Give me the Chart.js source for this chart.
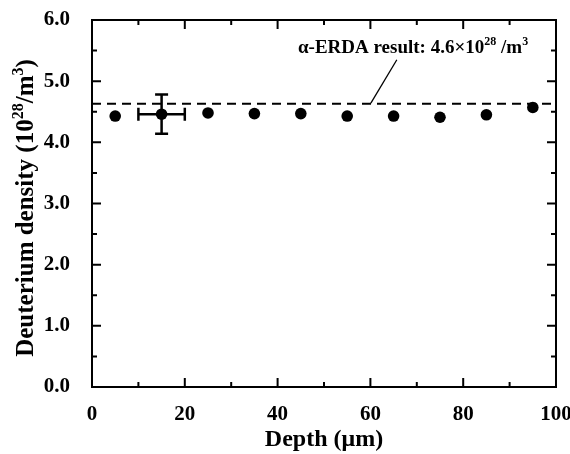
<!DOCTYPE html>
<html>
<head>
<meta charset="utf-8">
<script src="https://cdn.jsdelivr.net/npm/chart.js@4"></script>
<style>
  html, body { margin: 0; padding: 0; background: #fff; }
  #wrap { width: 570px; height: 454px; }
</style>
</head>
<body>
<div id="wrap"><canvas id="chart" width="570" height="454"></canvas></div>
<script>
// depth (um) and deuterium density (10^28 /m^3)
const depths = [5, 15, 25, 35, 45, 55, 65, 75, 85, 95];
const densities = [4.43, 4.46, 4.48, 4.47, 4.47, 4.43, 4.43, 4.41, 4.45, 4.57];
// error bar on the second point only
const errX = [0, 5, 0, 0, 0, 0, 0, 0, 0, 0];
const errY = [0, 0.32, 0, 0, 0, 0, 0, 0, 0, 0];

const erdaValue = 4.63;
const xTicks = [0, 20, 40, 60, 80, 100];
const xMinor = [10, 30, 50, 70, 90];
const yTicks = [0, 1, 2, 3, 4, 5, 6];
const yMinor = [0.5, 1.5, 2.5, 3.5, 4.5, 5.5];

// annotation anchor + leader line (data units)
const noteAt = { x: 44.4, y: 5.46 };
const leader = [{ x: 65.7, y: 5.35 }, { x: 60.1, y: 4.64 }];

const FONT = "'Liberation Serif', 'Times New Roman', serif";

// draws text pieces, some raised as superscripts, starting at (x, y)
function drawRich(ctx, parts, x, y, size) {
  let cx = x;
  parts.forEach(p => {
    const fs = p.sup ? Math.round(size * 0.65) : size;
    ctx.font = "bold " + fs + "px " + FONT;
    ctx.fillText(p.t, cx, p.sup ? y - size * 0.42 : y);
    cx += ctx.measureText(p.t).width;
  });
  return cx - x;
}
function richWidth(ctx, parts, size) {
  let w = 0;
  parts.forEach(p => {
    const fs = p.sup ? Math.round(size * 0.65) : size;
    ctx.font = "bold " + fs + "px " + FONT;
    w += ctx.measureText(p.t).width;
  });
  return w;
}

const extras = {
  id: "extras",
  afterDatasetsDraw(chart) {
    const ctx = chart.ctx;
    const xs = chart.scales.x, ys = chart.scales.y;
    const a = chart.chartArea;
    ctx.save();
    ctx.strokeStyle = "#000";
    ctx.fillStyle = "#000";

    // error bars
    ctx.lineWidth = 2.5;
    depths.forEach((d, i) => {
      const px = xs.getPixelForValue(d), py = ys.getPixelForValue(densities[i]);
      if (errY[i]) {
        const t = ys.getPixelForValue(densities[i] + errY[i]);
        const b = ys.getPixelForValue(densities[i] - errY[i]);
        ctx.beginPath();
        ctx.moveTo(px, t); ctx.lineTo(px, b);
        ctx.moveTo(px - 6.5, t); ctx.lineTo(px + 6.5, t);
        ctx.moveTo(px - 6.5, b); ctx.lineTo(px + 6.5, b);
        ctx.stroke();
      }
      if (errX[i]) {
        const l = xs.getPixelForValue(d - errX[i]);
        const r = xs.getPixelForValue(d + errX[i]);
        ctx.beginPath();
        ctx.moveTo(l, py); ctx.lineTo(r, py);
        ctx.moveTo(l, py - 6.5); ctx.lineTo(l, py + 6.5);
        ctx.moveTo(r, py - 6.5); ctx.lineTo(r, py + 6.5);
        ctx.stroke();
      }
    });

    // frame
    ctx.lineWidth = 2;
    ctx.strokeRect(a.left, a.top, a.right - a.left, a.bottom - a.top);

    // inward ticks on all four sides
    ctx.beginPath();
    const tickX = (v, len) => {
      const p = xs.getPixelForValue(v);
      ctx.moveTo(p, a.bottom); ctx.lineTo(p, a.bottom - len);
      ctx.moveTo(p, a.top); ctx.lineTo(p, a.top + len);
    };
    const tickY = (v, len) => {
      const p = ys.getPixelForValue(v);
      ctx.moveTo(a.left, p); ctx.lineTo(a.left + len, p);
      ctx.moveTo(a.right, p); ctx.lineTo(a.right - len, p);
    };
    xTicks.forEach(v => tickX(v, 9));
    xMinor.forEach(v => tickX(v, 5));
    yTicks.forEach(v => tickY(v, 9));
    yMinor.forEach(v => tickY(v, 5));
    ctx.stroke();

    // annotation
    ctx.textBaseline = "alphabetic";
    ctx.textAlign = "left";
    drawRich(ctx, [
      { t: "\u03b1-ERDA result: 4.6\u00d710" }, { t: "28", sup: true },
      { t: " /m" }, { t: "3", sup: true }
    ], xs.getPixelForValue(noteAt.x), ys.getPixelForValue(noteAt.y), 19);
    ctx.lineWidth = 1.3;
    ctx.beginPath();
    ctx.moveTo(xs.getPixelForValue(leader[0].x), ys.getPixelForValue(leader[0].y));
    ctx.lineTo(xs.getPixelForValue(leader[1].x), ys.getPixelForValue(leader[1].y));
    ctx.stroke();

    // y axis title with superscripts
    const yTitle = [
      { t: "Deuterium density (10" }, { t: "28", sup: true },
      { t: "/m" }, { t: "3", sup: true }, { t: ")" }
    ];
    const w = richWidth(ctx, yTitle, 25);
    ctx.translate(33, 208);
    ctx.rotate(-Math.PI / 2);
    drawRich(ctx, yTitle, -w / 2, 0, 25);
    ctx.restore();
  }
};

new Chart(document.getElementById("chart"), {
  type: "scatter",
  data: {
    datasets: [
      {
        data: depths.map((d, i) => ({ x: d, y: densities[i] })),
        backgroundColor: "#000",
        borderColor: "#000",
        borderWidth: 0,
        pointRadius: 5.8,
        pointHoverRadius: 5.8
      },
      {
        type: "line",
        data: [{ x: 0, y: erdaValue }, { x: 100, y: erdaValue }],
        borderColor: "#000",
        borderWidth: 2,
        borderDash: [9, 6],
        pointRadius: 0,
        fill: false
      }
    ]
  },
  options: {
    responsive: false,
    animation: false,
    devicePixelRatio: 1,
    layout: { padding: { top: 20, right: 14, left: 0, bottom: 0 } },
    plugins: { legend: { display: false }, tooltip: { enabled: false } },
    scales: {
      x: {
        type: "linear",
        min: 0, max: 100,
        grid: { display: false },
        border: { display: false },
        afterFit: s => { s.height = 67; s.paddingLeft = 0; s.paddingRight = 0; },
        afterBuildTicks: s => { s.ticks = xTicks.map(v => ({ value: v })); },
        ticks: {
          color: "#000",
          padding: 7,
          maxRotation: 0,
          font: { family: FONT, size: 21, weight: "bold" },
          callback: v => String(v)
        },
        title: {
          display: true,
          text: "Depth (\u03bcm)",
          color: "#000",
          padding: { top: 6, bottom: 0 },
          font: { family: FONT, size: 24, weight: "bold" }
        }
      },
      y: {
        type: "linear",
        min: 0, max: 6,
        grid: { display: false },
        border: { display: false },
        afterFit: s => { s.width = 92; s.paddingTop = 0; s.paddingBottom = 0; },
        afterBuildTicks: s => { s.ticks = yTicks.map(v => ({ value: v })); },
        ticks: {
          color: "#000",
          padding: 14,
          font: { family: FONT, size: 21, weight: "bold" },
          callback: v => v.toFixed(1)
        }
      }
    }
  },
  plugins: [extras]
});
</script>
</body>
</html>
